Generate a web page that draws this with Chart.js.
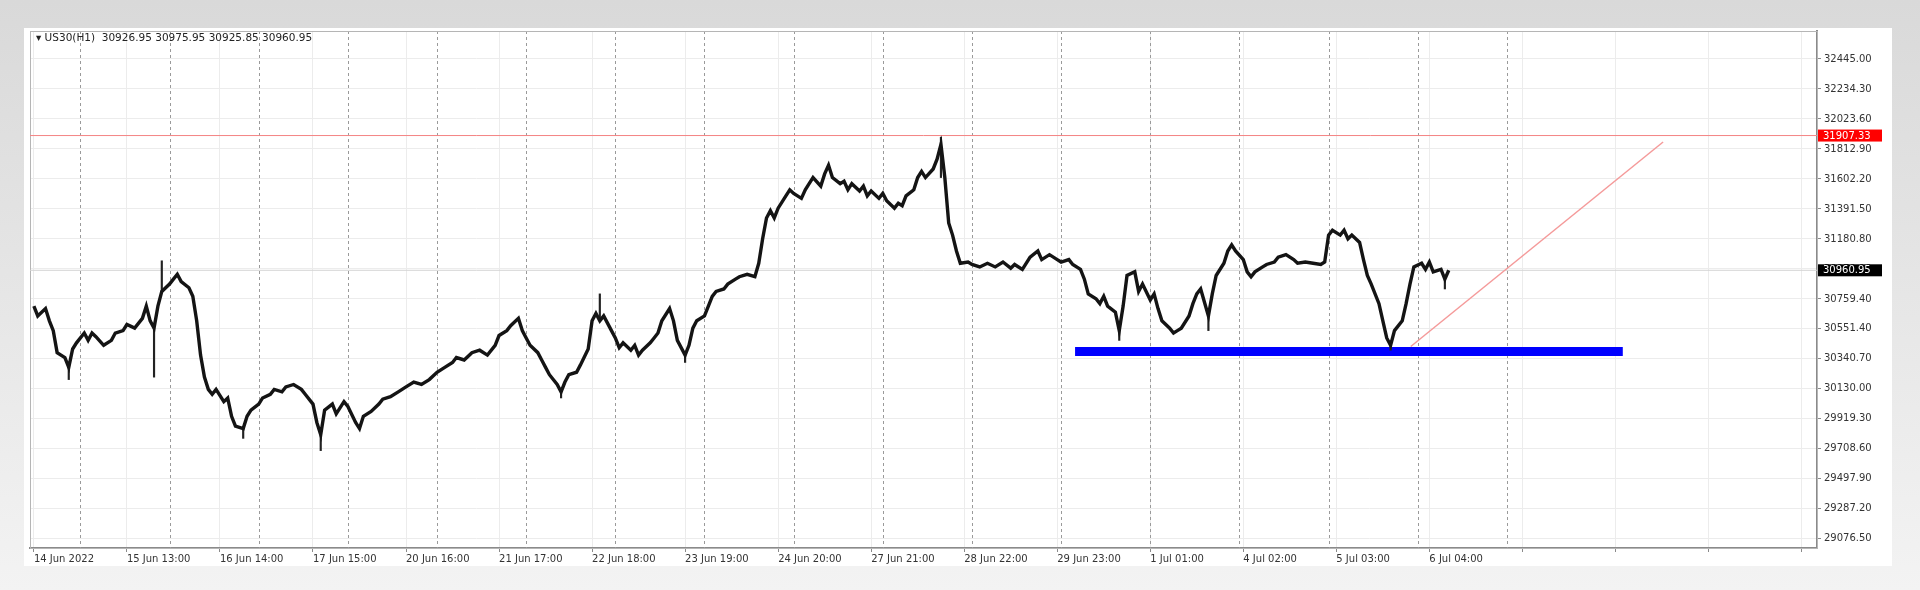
<!DOCTYPE html>
<html>
<head>
<meta charset="utf-8">
<script src="https://cdn.jsdelivr.net/npm/chart.js@4.4.1/dist/chart.umd.min.js"></script>
<style>
  html, body { margin: 0; padding: 0; background: #e4e4e4; }
  #wrap { width: 1920px; height: 590px; }
</style>
</head>
<body>
<div id="wrap"><canvas id="priceChart" width="1920" height="590"></canvas></div>
<script>
// x axis: H1 bar number, 24 bars between date labels
const dateLabels = ["14 Jun 2022", "15 Jun 13:00", "16 Jun 14:00", "17 Jun 15:00", "20 Jun 16:00", "21 Jun 17:00",
  "22 Jun 18:00", "23 Jun 19:00", "24 Jun 20:00", "27 Jun 21:00", "28 Jun 22:00", "29 Jun 23:00",
  "1 Jul 01:00", "4 Jul 02:00", "5 Jul 03:00", "6 Jul 04:00"];
const dateLabelBars = [0, 24, 48, 72, 96, 120, 144, 168, 192, 216, 240, 264, 288, 312, 336, 360];
const emptyGridBars = [384, 408, 432, 456];
const daySeparatorBars = [12, 35, 58, 81, 104, 127, 150, 173, 196, 219, 242, 265, 288, 311, 334, 357, 380];

const priceTicks = [32445.00, 32234.30, 32023.60, 31812.90, 31602.20, 31391.50, 31180.80, 30970.10, 30759.40,
  30551.40, 30340.70, 30130.00, 29919.30, 29708.60, 29497.90, 29287.20, 29076.50];

// close path of US30 H1
const barIndex = [0, 1, 3, 4, 5, 6, 8, 9, 10, 11, 13, 14, 15, 16, 18, 20, 21, 23, 24, 26, 28, 29, 30, 31, 32, 33, 35, 36, 37, 38,
  40, 41, 42, 43, 44, 45, 46, 47, 49, 50, 51, 52, 54, 55, 56, 58, 59, 61, 62, 64, 65, 67, 69, 70, 72, 73, 74, 75, 77, 78,
  80, 81, 83, 84, 85, 87, 89, 90, 92, 94, 96, 98, 100, 102, 104, 106, 108, 109, 111, 113, 115, 117, 119, 120, 122, 123, 125, 126, 127, 128,
  130, 131, 132, 133, 135, 136, 137, 138, 140, 141, 143, 144, 145, 146, 147, 149, 150, 151, 152, 154, 155, 156, 157, 159, 160, 161, 162, 164, 165, 166,
  168, 169, 170, 171, 173, 174, 175, 176, 178, 179, 181, 182, 184, 186, 187, 188, 189, 190, 191, 192, 194, 195, 196, 198, 199, 200, 201, 203, 204, 205,
  206, 208, 209, 210, 211, 213, 214, 215, 216, 218, 219, 220, 222, 223, 224, 225, 227, 228, 229, 230, 232, 233, 234, 235, 236, 237, 238, 239, 241, 242,
  244, 246, 248, 250, 252, 253, 255, 257, 259, 260, 262, 264, 265, 267, 268, 270, 271, 272, 274, 275, 276, 277, 279, 280, 281, 282, 284, 285, 286, 288,
  289, 290, 291, 293, 294, 295, 296, 298, 299, 300, 301, 303, 304, 305, 307, 308, 309, 310, 312, 313, 314, 315, 317, 318, 320, 321, 323, 325, 326, 328,
  330, 332, 333, 334, 335, 337, 338, 339, 340, 342, 343, 344, 345, 347, 348, 349, 350, 351, 353, 354, 355, 356, 358, 359, 360, 361, 363, 364, 365];
const closePrice = [30709.4, 30640.6, 30692.2, 30606.2, 30537.4, 30382.6, 30348.2, 30279.4, 30408.4, 30451.4, 30520.2, 30468.6, 30520.2, 30494.4, 30434.2, 30468.6, 30520.2, 30537.4, 30580.4, 30554.6, 30623.4, 30709.4, 30606.2, 30554.6, 30709.4, 30812.6, 30864.2, 30898.6, 30933.0, 30881.4,
  30838.4, 30778.2, 30606.2, 30365.4, 30210.6, 30124.6, 30090.2, 30124.6, 30038.6, 30064.4, 29935.4, 29866.6, 29849.4, 29935.4, 29978.4, 30021.4, 30064.4, 30090.2, 30124.6, 30107.4, 30141.8, 30159.0, 30124.6, 30090.2, 30021.4, 29892.4, 29806.4, 29978.4, 30021.4, 29952.6,
  30038.6, 30004.2, 29892.4, 29849.4, 29935.4, 29969.8, 30021.4, 30055.8, 30073.0, 30107.4, 30141.8, 30176.2, 30159.0, 30193.4, 30245.0, 30279.4, 30313.8, 30348.2, 30331.0, 30382.6, 30399.8, 30365.4, 30434.2, 30503.0, 30537.4, 30571.8, 30623.4, 30537.4, 30485.8, 30434.2,
  30382.6, 30331.0, 30279.4, 30227.8, 30159.0, 30107.4, 30176.2, 30227.8, 30245.0, 30296.6, 30408.4, 30606.2, 30657.8, 30606.2, 30640.6, 30537.4, 30485.8, 30417.0, 30451.4, 30399.8, 30434.2, 30365.4, 30399.8, 30451.4, 30485.8, 30520.2, 30606.2, 30692.2, 30606.2, 30468.6,
  30365.4, 30434.2, 30554.6, 30606.2, 30640.6, 30709.4, 30778.2, 30812.6, 30829.8, 30864.2, 30898.6, 30915.8, 30933.0, 30915.8, 31010.4, 31182.4, 31328.6, 31380.2, 31328.6, 31397.4, 31483.4, 31526.4, 31500.6, 31466.2, 31526.4, 31569.4, 31612.4, 31552.2, 31638.2, 31698.4,
  31612.4, 31569.4, 31586.6, 31526.4, 31569.4, 31517.8, 31552.2, 31483.4, 31517.8, 31466.2, 31500.6, 31449.0, 31397.4, 31431.8, 31414.6, 31483.4, 31526.4, 31612.4, 31655.4, 31612.4, 31672.6, 31741.4, 31844.6, 31612.4, 31293.2, 31208.2, 31096.4, 31010.4, 31019.0, 31001.8,
  30984.6, 31010.4, 30984.6, 31019.0, 30976.0, 31001.8, 30967.4, 31053.4, 31096.4, 31036.2, 31070.6, 31036.2, 31019.0, 31036.2, 31001.8, 30967.4, 30898.6, 30795.4, 30761.0, 30726.6, 30778.2, 30709.4, 30666.4, 30537.4, 30709.4, 30924.4, 30950.2, 30812.6, 30864.2, 30752.4,
  30795.4, 30692.2, 30606.2, 30554.6, 30520.2, 30537.4, 30554.6, 30640.6, 30726.6, 30795.4, 30829.8, 30640.6, 30795.4, 30924.4, 31010.4, 31096.4, 31139.4, 31096.4, 31036.2, 30950.2, 30915.8, 30950.2, 30984.6, 31001.8, 31019.0, 31053.4, 31070.6, 31036.2, 31010.4, 31019.0,
  31010.4, 31001.8, 31019.0, 31208.2, 31242.6, 31208.2, 31242.6, 31182.4, 31208.2, 31156.6, 31036.2, 30924.4, 30864.2, 30726.6, 30606.2, 30485.8, 30434.2, 30537.4, 30606.2, 30726.6, 30864.2, 30984.6, 31010.4, 30967.4, 31019.0, 30950.2, 30967.4, 30898.6, 30960.95];

// longer candle shadows
const wickBars = [9, 31, 33, 54, 74, 136, 146, 168, 234, 280, 303, 350, 364];
const wickLow = [30193.4, 30210.6, 30812.6, 29780.6, 29694.6, 30064.4, 30606.2, 30313.8, 31612.4, 30468.6, 30537.4, 30399.8, 30829.8];
const wickHigh = [30285.0, 30554.6, 31027.6, 29849.4, 29806.4, 30107.4, 30795.4, 30365.4, 31896.2, 30537.4, 30640.6, 30434.2, 30898.6];

const resistanceLevel = 31907.33;
const supportLevel = 30391.2;
const supportBars = [268.6, 409.9];
const trendBars = [355.2, 420.3];
const trendPrices = [30425.6, 31861.8];
const headerText = "US30(H1)  30926.95 30975.95 30925.85 30960.95";

const lastPrice = closePrice[closePrice.length - 1];
const fontFamily = "'DejaVu Sans', sans-serif";

const chromePlugin = {
  id: "chrome",
  beforeDraw(chart) {
    const ctx = chart.ctx;
    ctx.save();
    const g = ctx.createLinearGradient(0, 0, 0, 590);
    g.addColorStop(0, "#d9d9d9");
    g.addColorStop(1, "#f3f3f3");
    ctx.fillStyle = g;
    ctx.fillRect(0, 0, chart.width, chart.height);
    ctx.fillStyle = "#ffffff";
    ctx.fillRect(24, 28, 1868, 538);
    ctx.restore();
  },
  beforeDatasetsDraw(chart) {
    const { ctx, chartArea: a, scales } = chart;
    ctx.save();
    ctx.strokeStyle = "#9a9a9a";
    ctx.lineWidth = 1;
    ctx.setLineDash([3, 3]);
    daySeparatorBars.forEach(b => {
      const x = Math.round(scales.x.getPixelForValue(b)) + 0.5;
      ctx.beginPath();
      ctx.moveTo(x, a.top);
      ctx.lineTo(x, a.bottom);
      ctx.stroke();
    });
    ctx.setLineDash([]);
    ctx.strokeStyle = "#b5b5b5";
    ctx.strokeRect(a.left + 0.5, a.top + 0.5, a.right - a.left, a.bottom - a.top);
    ctx.restore();
  },
  afterDraw(chart) {
    const { ctx, chartArea: a, scales } = chart;
    ctx.save();
    ctx.font = "10.5px " + fontFamily;
    ctx.textBaseline = "middle";
    ctx.fillStyle = "#222";
    ctx.fillText("\u25BE " + headerText, a.left + 6, a.top + 7);
    ctx.font = "10px " + fontFamily;
    const tag = (price, bg, text) => {
      const y = scales.y.getPixelForValue(price);
      ctx.fillStyle = bg;
      ctx.fillRect(a.right + 1, y - 6, 64, 12);
      ctx.fillStyle = "#fff";
      ctx.fillText(text, a.right + 6, y + 0.5);
    };
    tag(resistanceLevel, "#ff0000", resistanceLevel.toFixed(2));
    tag(lastPrice, "#000000", lastPrice.toFixed(2));
    ctx.restore();
  }
};

const ctx = document.getElementById("priceChart").getContext("2d");
const priceChart = new Chart(ctx, {
  type: "line",
  data: {
    datasets: [
      {
        label: "US30 H1",
        data: barIndex.map((b, i) => ({ x: b, y: closePrice[i] })),
        borderColor: "#141414",
        borderWidth: 3.4,
        pointRadius: 0,
        tension: 0,
      },
      {
        type: "bar",
        label: "shadows",
        data: wickBars.map((b, i) => ({ x: b, y: [wickLow[i], wickHigh[i]] })),
        backgroundColor: "#222222",
        barThickness: 1.5,
      },
      {
        label: "support",
        data: supportBars.map(b => ({ x: b, y: supportLevel })),
        borderColor: "#0000ff",
        borderWidth: 9,
        borderCapStyle: "butt",
        pointRadius: 0,
      },
      {
        label: "trend",
        data: trendBars.map((b, i) => ({ x: b, y: trendPrices[i] })),
        borderColor: "#f59a9a",
        borderWidth: 1.5,
        pointRadius: 0,
      },
      {
        label: "resistance",
        data: [{ x: -1, y: resistanceLevel }, { x: 460, y: resistanceLevel }],
        borderColor: "#f48484",
        borderWidth: 1,
        pointRadius: 0,
      },
      {
        label: "bid",
        data: [{ x: -1, y: lastPrice }, { x: 460, y: lastPrice }],
        borderColor: "#d4d4d4",
        borderWidth: 1,
        pointRadius: 0,
      },
    ],
  },
  options: {
    responsive: false,
    animation: false,
    events: [],
    layout: { padding: { left: 30, top: 31, right: 30, bottom: 22 } },
    plugins: { legend: { display: false }, tooltip: { enabled: false } },
    scales: {
      x: {
        type: "linear",
        min: -1,
        max: 460,
        offset: false,
        afterFit: s => { s.height = 20; },
        afterBuildTicks: s => {
          s.ticks = dateLabelBars.concat(emptyGridBars).map(v => ({ value: v }));
        },
        grid: { color: "#ececec", offset: false, drawTicks: true, tickLength: 4, tickColor: "#8a8a8a" },
        border: { color: "#8a8a8a", width: 2 },
        ticks: {
          autoSkip: false,
          maxRotation: 0,
          align: "start",
          padding: 1,
          color: "#333",
          font: { family: fontFamily, size: 10 },
          callback: (v) => {
            const i = dateLabelBars.indexOf(v);
            return i >= 0 ? dateLabels[i] : "";
          },
        },
      },
      y: {
        position: "right",
        min: 29010.6,
        max: 32641.6,
        afterFit: s => { s.width = 73; },
        afterBuildTicks: s => { s.ticks = priceTicks.map(v => ({ value: v })); },
        grid: { color: "#ececec", drawTicks: true, tickLength: 4, tickColor: "#8a8a8a" },
        border: { color: "#8a8a8a", width: 2 },
        ticks: {
          padding: 3,
          color: "#333",
          font: { family: fontFamily, size: 10 },
          callback: v => v.toFixed(2),
        },
      },
    },
  },
  plugins: [chromePlugin],
});
</script>
</body>
</html>
